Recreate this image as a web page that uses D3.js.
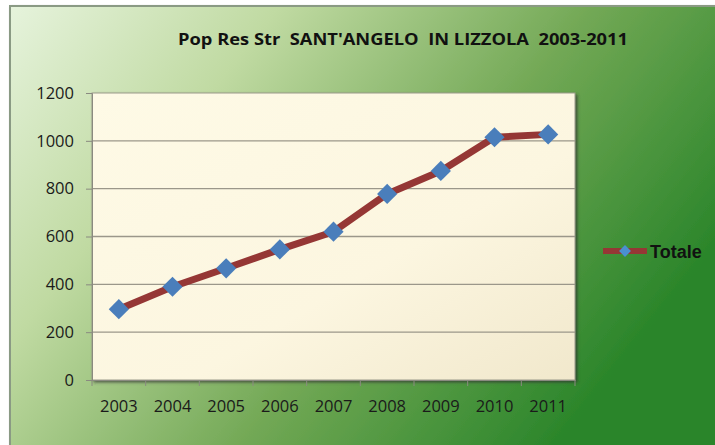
<!DOCTYPE html>
<html lang="it">
<head>
  <meta charset="UTF-8">
  <title>Pop Res Str SANT'ANGELO IN LIZZOLA 2003-2011</title>
  <script src="https://d3js.org/d3.v7.min.js"></script>
  <style>
    body { margin: 0; background: #fff; font-family: "Open Sans", "Noto Sans", sans-serif; }
    svg { display: block; }
  </style>
</head>
<body>
  <svg id="chart"></svg>

  <script>
    const years = ["2003", "2004", "2005", "2006", "2007", "2008", "2009", "2010", "2011"];
    const totale = [296, 390, 467, 546, 620, 778, 874, 1015, 1027];
    const yTicks = [0, 200, 400, 600, 800, 1000, 1200];

    const width = 715, height = 445;
    const plot = { left: 92, right: 575, top: 93, bottom: 380 };

    const svg = d3.select("#chart").attr("width", width).attr("height", height);
    const defs = svg.append("defs");

    // background gradient
    const bg = defs.append("linearGradient").attr("id", "bg")
      .attr("x1", "0").attr("y1", "0").attr("x2", "1").attr("y2", "0.5");
    bg.append("stop").attr("offset", "0").attr("stop-color", "#e6f3dc");
    bg.append("stop").attr("offset", "0.3").attr("stop-color", "#c0daa2");
    bg.append("stop").attr("offset", "0.65").attr("stop-color", "#72a855");
    bg.append("stop").attr("offset", "1").attr("stop-color", "#2a852a");

    const pg = defs.append("linearGradient").attr("id", "pg")
      .attr("x1", "0").attr("y1", "0").attr("x2", "1").attr("y2", "1");
    pg.append("stop").attr("offset", "0").attr("stop-color", "#fefae6");
    pg.append("stop").attr("offset", "0.6").attr("stop-color", "#fcf6e0");
    pg.append("stop").attr("offset", "1").attr("stop-color", "#f1e8cc");

    const sh = defs.append("filter").attr("id", "sh")
      .attr("x", "-5%").attr("y", "-5%").attr("width", "115%").attr("height", "115%");
    sh.append("feDropShadow").attr("dx", 2).attr("dy", 2).attr("stdDeviation", 1.5)
      .attr("flood-color", "#333").attr("flood-opacity", 0.7);

    // outer frame
    svg.append("rect").attr("x", 10).attr("y", 6).attr("width", 720).attr("height", 450)
      .attr("fill", "url(#bg)").attr("stroke", "#8a9a84").attr("stroke-width", 2)
      .attr("filter", "url(#sh)");

    // title
    svg.append("text").attr("x", 403).attr("y", 45).attr("text-anchor", "middle")
      .attr("font-size", 15.5).attr("font-weight", "bold").attr("fill", "#111")
      .style("white-space", "pre")
      .attr("textLength", 450).attr("lengthAdjust", "spacingAndGlyphs")
      .text("Pop Res Str  SANT'ANGELO  IN LIZZOLA  2003-2011");

    const x = d3.scaleBand().domain(years).range([plot.left, plot.right]);
    const y = d3.scaleLinear().domain([0, 1200]).range([plot.bottom, plot.top]);

    // plot area
    svg.append("rect").attr("x", plot.left).attr("y", plot.top)
      .attr("width", plot.right - plot.left).attr("height", plot.bottom - plot.top)
      .attr("fill", "url(#pg)").attr("stroke", "#9a9a8a").attr("stroke-width", 1)
      .attr("filter", "url(#sh)");

    // gridlines
    svg.append("g").selectAll("line").data(yTicks.slice(1, -1)).join("line")
      .attr("x1", plot.left).attr("x2", plot.right)
      .attr("y1", d => y(d)).attr("y2", d => y(d))
      .attr("stroke", "#9b978a").attr("stroke-width", 1.3);

    // y axis
    const yAxis = svg.append("g").attr("transform", `translate(${plot.left},0)`)
      .call(d3.axisLeft(y).tickValues(yTicks).tickFormat(d3.format("d")).tickSize(6).tickPadding(12));
    yAxis.select(".domain").attr("stroke", "#8a8a80");
    yAxis.selectAll(".tick line").attr("stroke", "#8a8a80");
    yAxis.selectAll(".tick text").attr("font-size", 16.5).attr("fill", "#1a1a1a")
      .attr("font-family", "Open Sans, sans-serif");

    // x axis, ticks between categories
    const xAxis = svg.append("g").attr("transform", `translate(0,${plot.bottom})`)
      .call(d3.axisBottom(x).tickSize(0).tickPadding(20));
    xAxis.select(".domain").attr("stroke", "#8a8a80");
    xAxis.selectAll(".tick text").attr("font-size", 16.5).attr("fill", "#1a1a1a")
      .attr("font-family", "Open Sans, sans-serif");
    xAxis.append("g").selectAll("line").data(years.concat(["end"])).join("line")
      .attr("x1", (d, i) => plot.left + i * x.step()).attr("x2", (d, i) => plot.left + i * x.step())
      .attr("y1", 0).attr("y2", 6).attr("stroke", "#8a8a80");

    // series
    const pts = years.map((yr, i) => [x(yr) + x.bandwidth() / 2, y(totale[i])]);
    svg.append("path").attr("d", d3.line()(pts))
      .attr("fill", "none").attr("stroke", "#953735").attr("stroke-width", 7)
      .attr("stroke-linejoin", "round");

    const diamond = d3.symbol().type(d3.symbolDiamond2).size(260);
    svg.append("g").selectAll("path").data(pts).join("path")
      .attr("transform", d => `translate(${d[0]},${d[1]})`)
      .attr("d", diamond).attr("fill", "#4a7ebb");

    // legend
    const lg = svg.append("g").attr("transform", "translate(603,251)");
    lg.append("line").attr("x1", 0).attr("x2", 44).attr("y1", 0).attr("y2", 0)
      .attr("stroke", "#953735").attr("stroke-width", 6);
    lg.append("path").attr("transform", "translate(22,0)")
      .attr("d", d3.symbol().type(d3.symbolDiamond2).size(90)).attr("fill", "#4a90d0");
    lg.append("text").attr("x", 47).attr("y", 6.5).attr("font-size", 18)
      .attr("font-weight", "bold").attr("font-family", "Liberation Sans, Arial, sans-serif")
      .attr("fill", "#111").text("Totale");
  </script>
</body>
</html>
